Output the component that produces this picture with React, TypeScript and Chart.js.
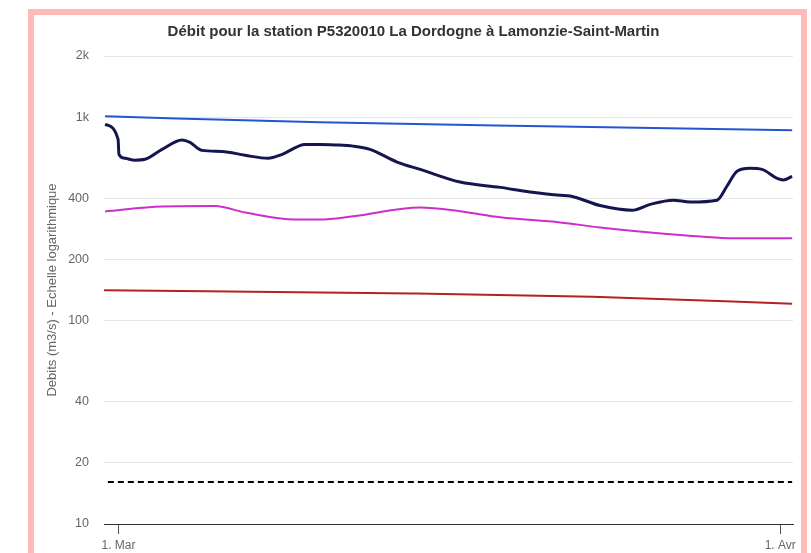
import React, { useEffect, useRef } from "react";
import { Chart, registerables } from "chart.js";

Chart.register(...registerables);

// x values are days since 1 March (0 = 1. Mar, 31 = 1. Avr)
const TITLE = "Débit pour la station P5320010 La Dordogne à Lamonzie-Saint-Martin";
const Y_TITLE = "Debits (m3/s) - Echelle logarithmique";
const X_TICKS = [0, 31];
const X_TICK_LABELS = ["1. Mar", "1. Avr"];
const Y_TICKS = [10, 20, 40, 100, 200, 400, 1000, 2000];
const X_MIN = -0.68;
const X_MAX = 31.6;

const obsDays = [-0.63, -0.02, 0.02, 0.3, 0.77, 1.24, 2.04, 2.98, 3.35, 3.91, 4.85, 5.93, 7.01, 7.67, 8.74, 9.44, 10.14, 10.99, 11.78, 13.05, 14.13, 16.0, 17.88, 19.28, 20.69, 21.16, 22.56, 24.06, 24.91, 25.98, 26.78, 28.04, 28.51, 28.98, 29.59, 30.15, 30.86, 31.14, 31.56];
const obsValues = [923, 778, 657, 628, 615, 621, 695, 773, 752, 687, 679, 650, 628, 657, 735, 735, 731, 721, 695, 602, 554, 480, 452, 429, 413, 410, 368, 349, 373, 391, 383, 391, 459, 543, 561, 554, 500, 491, 512];

const magDays = [-0.63, 2.04, 4.52, 5.93, 8.27, 9.44, 10.99, 14.13, 16.0, 17.88, 20.69, 22.56, 24.91, 27.25, 28.79, 31.56];
const magValues = [344, 364, 366, 340, 314, 314, 326, 360, 345, 322, 304, 287, 271, 259, 254, 254];

const blueDays = [-0.63, 9.44, 20.69, 31.56];
const blueValues = [1010, 945, 900, 862];

const redDays = [-0.68, 13.75, 22.2, 31.56];
const redValues = [141, 136, 131, 121];

const dashDays = [-0.5, 31.56];
const dashValues = [16.1, 16.1];

const FONT = "'Liberation Sans', Arial, Helvetica, sans-serif";

function pts(xs: number[], ys: number[]) {
  return xs.map((x, i) => ({ x, y: ys[i] }));
}

export default function App() {
  const ref = useRef<HTMLCanvasElement | null>(null);
  useEffect(() => {
    if (!ref.current) return;
    const chart = new Chart(ref.current, {
      type: "line",
      data: {
        datasets: [
          {
            label: "Seuil",
            data: pts(dashDays, dashValues),
            borderColor: "#000000",
            borderWidth: 2,
            borderDash: [6, 4],
            pointRadius: 0,
            tension: 0,
          },
          {
            label: "Rouge",
            data: pts(redDays, redValues),
            borderColor: "#b22222",
            borderWidth: 2,
            pointRadius: 0,
            cubicInterpolationMode: "monotone",
          },
          {
            label: "Magenta",
            data: pts(magDays, magValues),
            borderColor: "#cc2ecc",
            borderWidth: 2,
            pointRadius: 0,
            cubicInterpolationMode: "monotone",
          },
          {
            label: "Bleu",
            data: pts(blueDays, blueValues),
            borderColor: "#2456d0",
            borderWidth: 2,
            pointRadius: 0,
            cubicInterpolationMode: "monotone",
          },
          {
            label: "Observé",
            data: pts(obsDays, obsValues),
            borderColor: "#15154f",
            borderWidth: 3,
            pointRadius: 0,
            cubicInterpolationMode: "monotone",
          },
        ],
      },
      options: {
        responsive: false,
        animation: false,
        layout: { padding: { left: 0, right: 8, top: 0, bottom: 0 } },
        plugins: {
          legend: { display: false },
          tooltip: { enabled: false },
          title: {
            display: true,
            text: TITLE,
            color: "#333333",
            font: { family: FONT, size: 15, weight: "bold" },
            padding: { top: 8, bottom: 15 },
          },
        },
        scales: {
          x: {
            type: "linear",
            min: X_MIN,
            max: X_MAX,
            afterBuildTicks: (s: any) => {
              s.ticks = X_TICKS.map((v) => ({ value: v }));
            },
            afterFit: (s: any) => {
              s.height = 29;
            },
            ticks: {
              color: "#666666",
              font: { family: FONT, size: 12 },
              padding: 4,
              maxRotation: 0,
              autoSkip: false,
              callback: (v: any) => {
                const i = X_TICKS.indexOf(Number(v));
                return i >= 0 ? X_TICK_LABELS[i] : "";
              },
            },
            grid: {
              display: true,
              drawOnChartArea: false,
              drawTicks: true,
              tickLength: 10,
              color: "#555555",
            },
            border: { display: true, color: "#333333", width: 1 },
          },
          y: {
            type: "logarithmic",
            min: 10,
            max: 2000,
            afterBuildTicks: (s: any) => {
              s.ticks = Y_TICKS.map((v) => ({ value: v }));
            },
            afterFit: (s: any) => {
              s.width = 70;
            },
            ticks: {
              color: "#666666",
              font: { family: FONT, size: 12.5 },
              padding: 15,
              autoSkip: false,
              callback: (v: any) => {
                const n = Number(v);
                return n >= 1000 ? n / 1000 + "k" : String(n);
              },
            },
            grid: { color: "#e6e6e6", drawTicks: false, lineWidth: 1 },
            border: { display: false },
            title: {
              display: true,
              text: Y_TITLE,
              color: "#666666",
              font: { family: FONT, size: 13 },
              padding: { top: 11, bottom: 0 },
            },
          },
        },
      },
    } as any);
    return () => chart.destroy();
  }, []);

  return (
    <div>
      <div
        style={{
          position: "absolute",
          left: 28,
          top: 9,
          width: 779,
          height: 620,
          boxSizing: "border-box",
          border: "6px solid #ffb9b9",
          background: "#ffffff",
        }}
      />
      <canvas
        ref={ref}
        width={767}
        height={538}
        style={{ position: "absolute", left: 34, top: 15, width: 767, height: 538 }}
      />
    </div>
  );
}
